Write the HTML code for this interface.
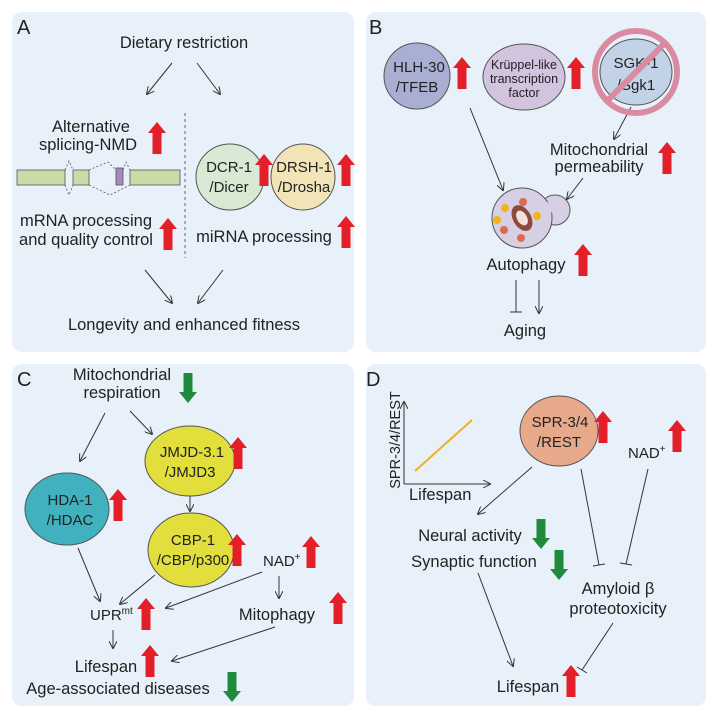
<!DOCTYPE html>
<html><head><meta charset="utf-8"><style>
html,body{margin:0;padding:0;background:#fff}
svg{display:block}
text{font-family:"Liberation Sans",sans-serif;fill:#222}
</style></head><body>
<svg width="718" height="718" viewBox="0 0 718 718" xmlns="http://www.w3.org/2000/svg">
<defs>
<marker id="ah" markerWidth="8" markerHeight="8" refX="7" refY="4" orient="auto" markerUnits="userSpaceOnUse"><path d="M0,0 L8,4 L0,8" fill="none" stroke="#333" stroke-width="1"/></marker>
<g id="up"><polygon points="0,0 9,11 4.5,11 4.5,32 -4.5,32 -4.5,11 -9,11" fill="#e3202a"/></g>
<g id="dn"><polygon points="0,30 9,19 4.5,19 4.5,0 -4.5,0 -4.5,19 -9,19" fill="#1e8a3c"/></g>
</defs>
<g fill="#e8f0f9">
<rect x="12" y="12" width="342" height="340" rx="10"/>
<rect x="366" y="12" width="340" height="340" rx="10"/>
<rect x="12" y="364" width="342" height="342" rx="10"/>
<rect x="366" y="364" width="340" height="342" rx="10"/>
</g>
<g stroke="#333" stroke-width="1" fill="none" marker-end="url(#ah)">
<line x1="172" y1="63" x2="147" y2="94"/><line x1="197" y1="63" x2="220" y2="94"/>
<line x1="145" y1="270" x2="172" y2="303"/><line x1="223" y1="270" x2="198" y2="303"/>
<line x1="470" y1="108" x2="503" y2="190"/><line x1="631" y1="107" x2="614" y2="139"/>
<line x1="583" y1="178" x2="567" y2="199"/><line x1="539" y1="280" x2="539" y2="313"/>
<line x1="105" y1="413" x2="80" y2="461"/><line x1="130" y1="411" x2="152" y2="434"/>
<line x1="190" y1="496" x2="190" y2="511"/><line x1="78" y1="548" x2="100" y2="601"/>
<line x1="155" y1="575" x2="120" y2="604"/><line x1="262" y1="572" x2="166" y2="608"/>
<line x1="279" y1="576" x2="279" y2="598"/><line x1="113" y1="630" x2="113" y2="648"/>
<line x1="275" y1="627" x2="172" y2="661"/>
<line x1="532" y1="467" x2="478" y2="514"/><line x1="478" y1="573" x2="513" y2="666"/>
<line x1="404" y1="484" x2="404" y2="402"/><line x1="404" y1="484" x2="490" y2="484"/>
</g>
<g stroke="#333" stroke-width="1">
<line x1="516" y1="280" x2="516" y2="312"/><line x1="510" y1="312" x2="522" y2="312"/>
<line x1="581" y1="469" x2="599" y2="565"/><line x1="593" y1="566" x2="605" y2="564"/>
<line x1="648" y1="469" x2="626" y2="564"/><line x1="620" y1="563" x2="632" y2="565"/>
<line x1="613" y1="623" x2="582" y2="670"/><line x1="577" y1="667" x2="587" y2="673"/>
</g>
<line x1="185" y1="113" x2="185" y2="258" stroke="#666" stroke-dasharray="3,3"/>
<line x1="415" y1="471" x2="472" y2="420" stroke="#f0b020" stroke-width="2"/>
<!-- A -->
<text x="17" y="34" font-size="20">A</text>
<text x="184" y="48" font-size="16.5" text-anchor="middle">Dietary restriction</text>
<text x="91" y="132" font-size="16.5" text-anchor="middle">Alternative</text>
<text x="88" y="150" font-size="16.5" text-anchor="middle">splicing-NMD</text>
<use href="#up" x="157" y="122"/>
<g fill="#c8dca8" stroke="#555" stroke-width="0.8">
<rect x="17" y="170" width="48" height="15"/><rect x="73" y="170" width="16" height="15"/><rect x="130" y="170" width="50" height="15"/>
<rect x="116" y="168" width="7" height="17" fill="#a58ab8"/>
</g>
<path d="M65,170 L69,161 L73,170 M65,185 L69,195 L73,185 M89,170 L108,162 L116,170 M89,185 L110,195 L130,185 M123,170 L126,162 L130,170" fill="none" stroke="#555" stroke-dasharray="2,2" stroke-width="0.8"/>
<text x="86" y="226" font-size="16.5" text-anchor="middle">mRNA processing</text>
<text x="86" y="245" font-size="16.5" text-anchor="middle">and quality control</text>
<use href="#up" x="168" y="218"/>
<ellipse cx="230" cy="177" rx="34" ry="33" fill="#d8ead3" stroke="#555"/>
<text x="229" y="172" font-size="15" text-anchor="middle">DCR-1</text>
<text x="229" y="192" font-size="15" text-anchor="middle">/Dicer</text>
<use href="#up" x="264" y="154"/>
<ellipse cx="303" cy="177" rx="32" ry="33" fill="#f1e5b8" stroke="#555"/>
<text x="304" y="172" font-size="15" text-anchor="middle">DRSH-1</text>
<text x="304" y="192" font-size="15" text-anchor="middle">/Drosha</text>
<use href="#up" x="346" y="154"/>
<text x="264" y="242" font-size="16.5" text-anchor="middle">miRNA processing</text>
<use href="#up" x="346" y="216"/>
<text x="184" y="330" font-size="16.5" text-anchor="middle">Longevity and enhanced fitness</text>
<!-- B -->
<text x="369" y="34" font-size="20">B</text>
<ellipse cx="417" cy="76" rx="33" ry="33" fill="#a9afd2" stroke="#555"/>
<text x="419" y="72" font-size="15" text-anchor="middle">HLH-30</text>
<text x="417" y="92" font-size="15" text-anchor="middle">/TFEB</text>
<use href="#up" x="462" y="57"/>
<ellipse cx="524" cy="77" rx="41" ry="33" fill="#d2c4df" stroke="#555"/>
<text x="524" y="69" font-size="12.5" text-anchor="middle">Krüppel-like</text>
<text x="524" y="83" font-size="12.5" text-anchor="middle">transcription</text>
<text x="524" y="97" font-size="12.5" text-anchor="middle">factor</text>
<use href="#up" x="576" y="57"/>
<ellipse cx="636" cy="72" rx="36" ry="33" fill="#c3d3e7" stroke="#555"/>
<text x="636" y="68" font-size="15" text-anchor="middle">SGK-1</text>
<text x="636" y="90" font-size="15" text-anchor="middle">/Sgk1</text>
<circle cx="636" cy="72" r="41" fill="none" stroke="#da8ba2" stroke-width="6"/>
<line x1="665" y1="43" x2="607" y2="101" stroke="#da8ba2" stroke-width="6"/>
<text x="599" y="155" font-size="16.5" text-anchor="middle">Mitochondrial</text>
<text x="599" y="172" font-size="16.5" text-anchor="middle">permeability</text>
<use href="#up" x="667" y="142"/>
<circle cx="555" cy="210" r="15" fill="#d7d0e4" stroke="#555"/>
<circle cx="522" cy="218" r="30" fill="#d7d0e4" stroke="#555"/>
<circle cx="543" cy="210" r="9" fill="#d7d0e4"/>
<ellipse cx="522" cy="218" rx="9" ry="14" transform="rotate(-30 522 218)" fill="#8b4a3c"/>
<ellipse cx="522" cy="218" rx="5" ry="8" transform="rotate(-30 522 218)" fill="#f4e0dc"/>
<g fill="#f2b21c"><circle cx="505" cy="208" r="4"/><circle cx="497" cy="220" r="4"/><circle cx="537" cy="216" r="4"/></g>
<g fill="#e06a50"><circle cx="523" cy="202" r="4"/><circle cx="504" cy="230" r="4"/><circle cx="521" cy="238" r="4"/></g>
<text x="526" y="270" font-size="16.5" text-anchor="middle">Autophagy</text>
<use href="#up" x="583" y="244"/>
<text x="525" y="336" font-size="16.5" text-anchor="middle">Aging</text>
<!-- C -->
<text x="17" y="386" font-size="20">C</text>
<text x="122" y="380" font-size="16.5" text-anchor="middle">Mitochondrial</text>
<text x="122" y="398" font-size="16.5" text-anchor="middle">respiration</text>
<use href="#dn" x="188" y="373"/>
<ellipse cx="190" cy="461" rx="45" ry="35" fill="#e2df3c" stroke="#555"/>
<text x="192" y="457" font-size="15" text-anchor="middle">JMJD-3.1</text>
<text x="190" y="477" font-size="15" text-anchor="middle">/JMJD3</text>
<use href="#up" x="238" y="437"/>
<ellipse cx="67" cy="509" rx="42" ry="36" fill="#40b2bf" stroke="#555"/>
<text x="70" y="505" font-size="15" text-anchor="middle">HDA-1</text>
<text x="70" y="525" font-size="15" text-anchor="middle">/HDAC</text>
<use href="#up" x="118" y="489"/>
<ellipse cx="191" cy="550" rx="43" ry="37" fill="#e2df3c" stroke="#555"/>
<text x="193" y="545" font-size="15" text-anchor="middle">CBP-1</text>
<text x="193" y="565" font-size="15" text-anchor="middle">/CBP/p300</text>
<use href="#up" x="237" y="534"/>
<text x="263" y="566" font-size="15">NAD<tspan font-size="10" dy="-6">+</tspan></text>
<use href="#up" x="311" y="536"/>
<text x="90" y="620" font-size="15">UPR<tspan font-size="10" dy="-6">mt</tspan></text>
<use href="#up" x="146" y="598"/>
<text x="277" y="620" font-size="16.5" text-anchor="middle">Mitophagy</text>
<use href="#up" x="338" y="592"/>
<text x="106" y="672" font-size="16.5" text-anchor="middle">Lifespan</text>
<use href="#up" x="150" y="645"/>
<text x="118" y="694" font-size="16.5" text-anchor="middle">Age-associated diseases</text>
<use href="#dn" x="232" y="672"/>
<!-- D -->
<text x="366" y="386" font-size="20">D</text>
<text transform="translate(400 440) rotate(-90)" font-size="14.5" text-anchor="middle">SPR-3/4/REST</text>
<text x="409" y="500" font-size="16.5">Lifespan</text>
<ellipse cx="559" cy="431" rx="39" ry="35" fill="#e6a98a" stroke="#555"/>
<text x="560" y="427" font-size="15" text-anchor="middle">SPR-3/4</text>
<text x="559" y="447" font-size="15" text-anchor="middle">/REST</text>
<use href="#up" x="603" y="411"/>
<text x="628" y="458" font-size="15">NAD<tspan font-size="10" dy="-6">+</tspan></text>
<use href="#up" x="677" y="420"/>
<text x="470" y="541" font-size="16.5" text-anchor="middle">Neural activity</text>
<use href="#dn" x="541" y="519"/>
<text x="474" y="567" font-size="16.5" text-anchor="middle">Synaptic function</text>
<use href="#dn" x="559" y="550"/>
<text x="618" y="594" font-size="16.5" text-anchor="middle">Amyloid β</text>
<text x="618" y="614" font-size="16.5" text-anchor="middle">proteotoxicity</text>
<text x="528" y="692" font-size="16.5" text-anchor="middle">Lifespan</text>
<use href="#up" x="571" y="665"/>
</svg>
</body></html>
